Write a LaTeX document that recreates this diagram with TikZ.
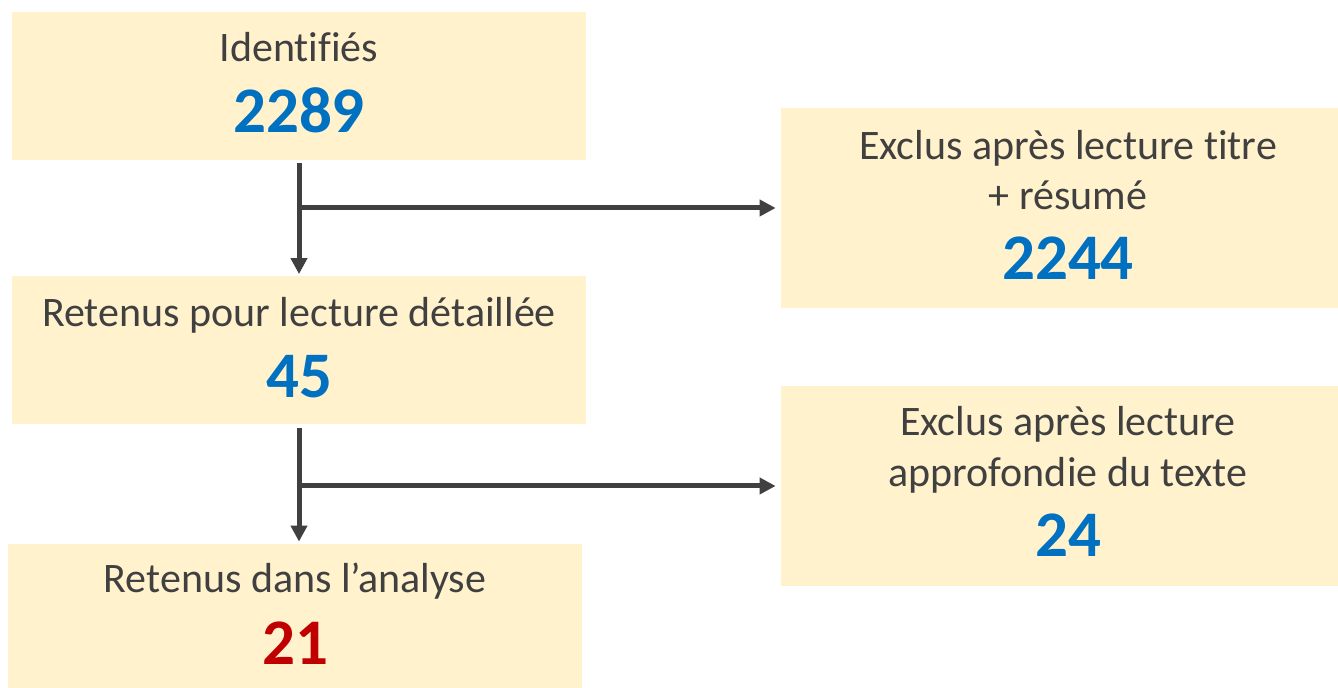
\documentclass[tikz,border=0pt]{standalone}
\usepackage{fontspec}
\setmainfont{Carlito}[Ligatures={NoCommon}]
\usepackage{tikz}
\usetikzlibrary{positioning,arrows.meta}

\definecolor{boxfill}{HTML}{FFF2CC}
\definecolor{txtgray}{HTML}{404040}
\definecolor{numblue}{HTML}{0070C0}
\definecolor{numred}{HTML}{C00000}

\tikzset{
	box/.style={fill=boxfill,minimum width=287pt,inner sep=0pt},
	txt/.style={anchor=base,inner sep=0pt,text=txtgray,font=\fontsize{21pt}{25pt}\selectfont},
	num/.style={anchor=base,inner sep=0pt,font=\fontsize{32.5pt}{38pt}\selectfont\bfseries},
	flow/.style={draw=txtgray,line width=2.5pt,-{Triangle[length=8pt,width=8pt]}}
}

\begin{document}
\begin{tikzpicture}[x=0.5pt,y=-0.5pt]
		\useasboundingbox (0,0) rectangle (1338,688);
		% boxes
		\node[box,minimum height=74pt] (ident) at (299,86) {};
		\node[box,minimum height=74pt] (retenus) at (299,350.5) {};
		\node[box,minimum height=74pt] (analyse) at (295,618) {};
		\node[box,minimum height=100pt] (exclus1) at (1068,208) {};
		\node[box,minimum height=100pt] (exclus2) at (1068,486) {};
		% texts
		\node[txt] (ident-t) at (299,62) {Identifiés};
		\node[num,text=numblue] (ident-n) at (299,133) {2289};
		\node[txt] (retenus-t) at (299,327) {Retenus pour lecture détaillée};
		\node[num,text=numblue] (retenus-n) at (299,398) {45};
		\node[txt] (analyse-t) at (295,593) {Retenus dans l’analyse};
		\node[num,text=numred] (analyse-n) at (295,665) {21};
		\node[txt] (exclus1-t) at (1068,160) {Exclus après lecture titre};
		\node[txt] (exclus1-u) at (1068,210) {+ résumé};
		\node[num,text=numblue] (exclus1-n) at (1068,280) {2244};
		\node[txt] (exclus2-t) at (1068,436) {Exclus après lecture};
		\node[txt] (exclus2-u) at (1068,487) {approfondie du texte};
		\node[num,text=numblue] (exclus2-n) at (1068,557) {24};
		% arrows
		\draw[flow,shorten <=1.5pt,shorten >=1pt] (ident.south) -- (retenus.north);
		\draw[flow,shorten >=2.5pt] (ident.south |- exclus1.west) -- (exclus1.west);
		\draw[flow,shorten <=1.5pt,shorten >=1pt] (retenus.south) -- (retenus.south |- analyse.north);
		\draw[flow,shorten >=2.5pt] (retenus.south |- exclus2.west) -- (exclus2.west);
	\end{tikzpicture}
\end{document}
